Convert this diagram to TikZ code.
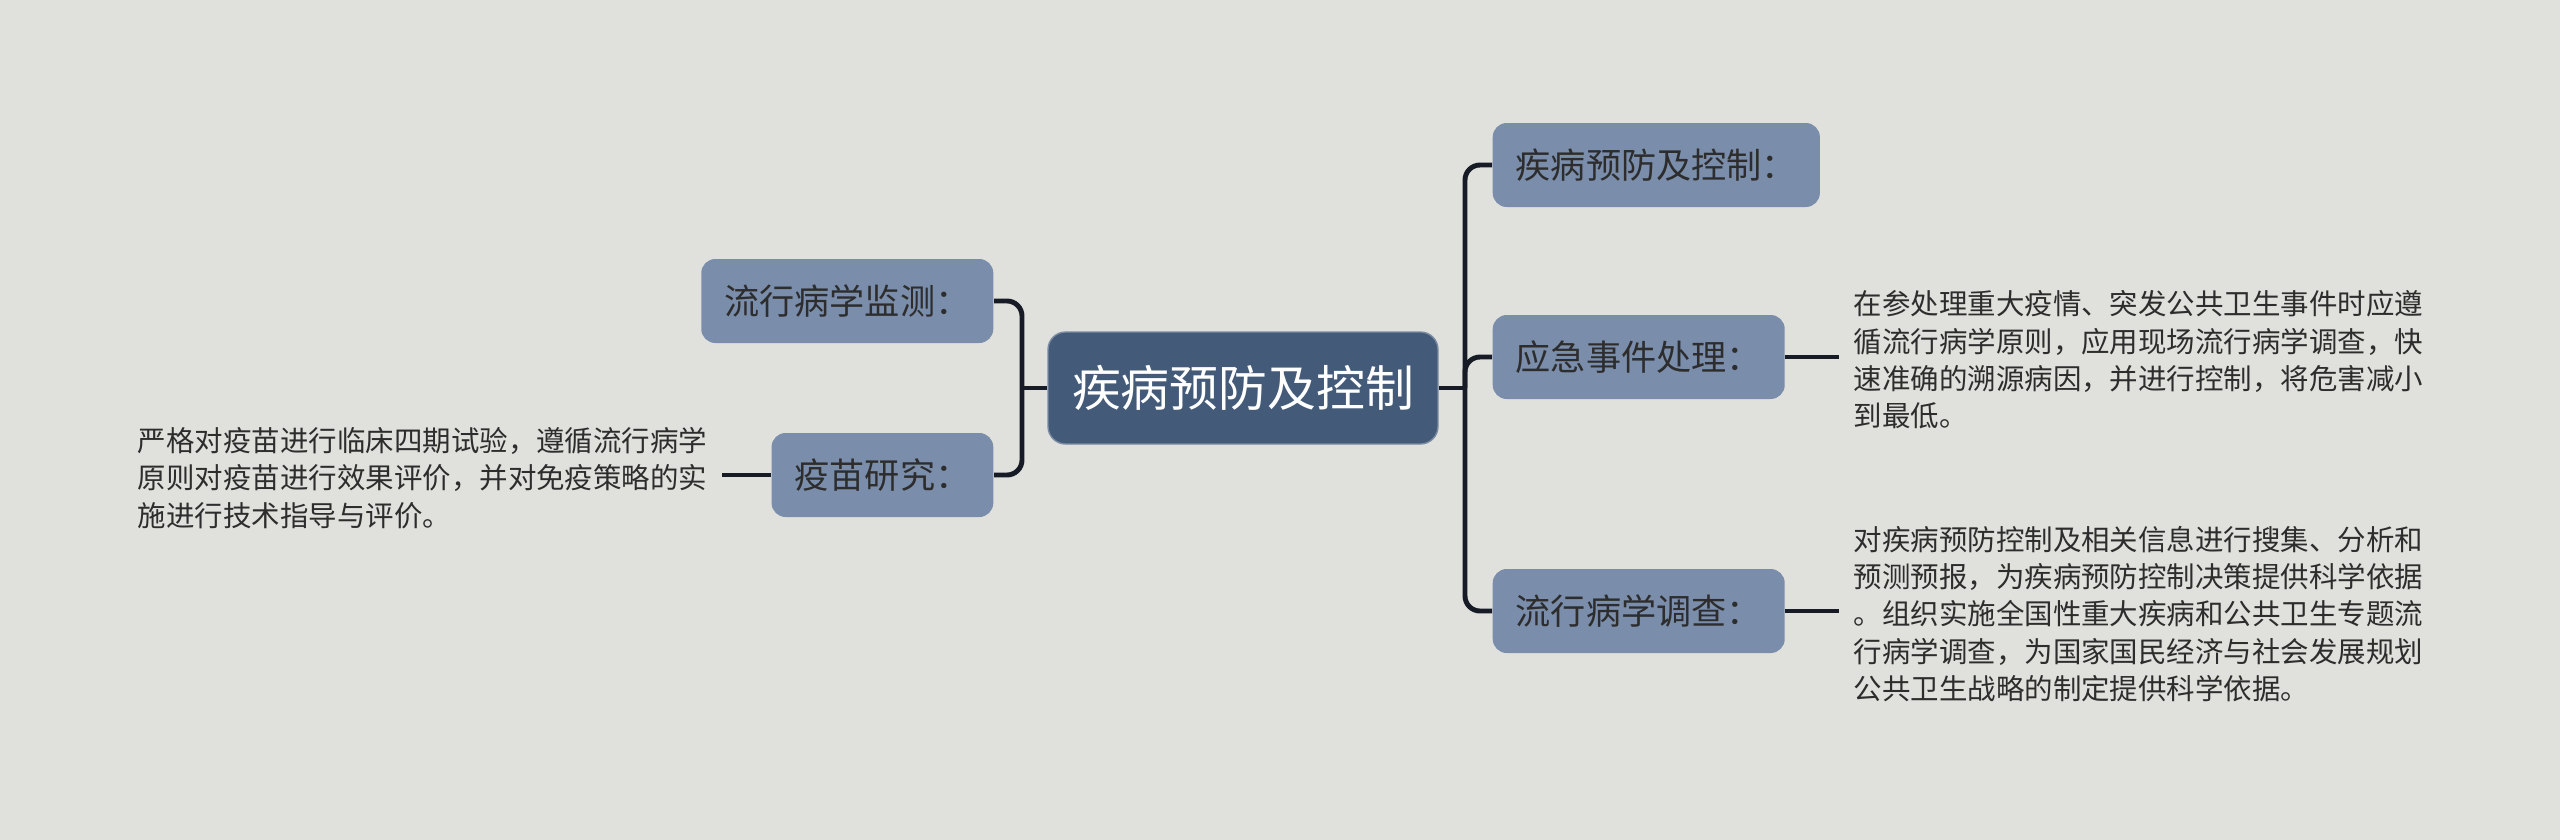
\documentclass[tikz,border=0pt]{standalone}
\usepackage{fontspec}
\newfontfamily\cjk{Noto Sans CJK SC}
\usepackage{xcolor}
\definecolor{BgGray}{RGB}{224, 225, 220}
\definecolor{RootBlue}{RGB}{67, 90, 121}
\definecolor{TopicBlue}{RGB}{122, 141, 171}
\definecolor{LinkDark}{RGB}{22, 27, 38}
\definecolor{TextDark}{RGB}{45, 45, 45}
\usetikzlibrary{positioning}

\begin{document}
\begin{tikzpicture}[
      root/.style={rectangle, fill=RootBlue, draw=RootBlue!70!white, thin, rounded corners=5pt, text=white, font=\cjk\fontsize{13.9}{16}\selectfont, minimum width=3.9cm, minimum height=1.12cm},
      topic/.style={rectangle, fill=TopicBlue, rounded corners=4pt, text=TextDark, font=\cjk\fontsize{10}{12}\selectfont, inner xsep=0.23cm, minimum height=0.84cm},
      note/.style={align=left, text=TextDark, font=\cjk\fontsize{8.1}{10.6}\selectfont, inner xsep=0.14cm, inner ysep=0pt},
      link/.style={draw=LinkDark, line width=1.4pt, rounded corners=0.15cm},
    ]
    % Canvas
    \fill[BgGray] (0, 0) rectangle (25.6, -8.4);
    \useasboundingbox (0, 0) rectangle (25.6, -8.4);

    % Central topic
    \node[root] (center) at (12.43, -3.88) {疾病预防及控制};

    % Right branches
    \node[topic, anchor=west] (prevent) at (14.92, -1.65) {疾病预防及控制：};
    \node[topic, anchor=west] (emerg) at (14.92, -3.57) {应急事件处理：};
    \node[topic, anchor=west] (survey) at (14.92, -6.11) {流行病学调查：};

    % Left branches
    \node[topic, anchor=east] (monitor) at (9.94, -3.01) {流行病学监测：};
    \node[topic, anchor=east] (vaccine) at (9.94, -4.75) {疫苗研究：};

    % Notes
    \node[note, anchor=west] (emergtxt) at (18.39, -3.60) {
      在参处理重大疫情、突发公共卫生事件时应遵\\
      循流行病学原则，应用现场流行病学调查，快\\
      速准确的溯源病因，并进行控制，将危害减小\\
      到最低。
    };
    \node[note, anchor=west] (surveytxt) at (18.39, -6.14) {
      对疾病预防控制及相关信息进行搜集、分析和\\
      预测预报，为疾病预防控制决策提供科学依据\\
      。组织实施全国性重大疾病和公共卫生专题流\\
      行病学调查，为国家国民经济与社会发展规划\\
      公共卫生战略的制定提供科学依据。
    };
    \node[note, anchor=east] (vaccinetxt) at (7.22, -4.78) {
      严格对疫苗进行临床四期试验，遵循流行病学\\
      原则对疫苗进行效果评价，并对免疫策略的实\\
      施进行技术指导与评价。
    };

    % Connectors
    \coordinate (rj) at (14.65, -3.88);
    \coordinate (lj) at (10.22, -3.88);
    \draw[link] (center.east) -- (rj);
    \draw[link] (prevent.west) -| (rj) |- (survey.west);
    \draw[link] (rj) |- (emerg.west);
    \draw[link] (center.west) -- (lj);
    \draw[link] (monitor.east) -| (lj) |- (vaccine.east);
    \draw[link] (emerg.east) -- (emerg.east -| emergtxt.west);
    \draw[link] (survey.east) -- (survey.east -| surveytxt.west);
    \draw[link] (vaccine.west) -- (vaccine.west -| vaccinetxt.east);
  \end{tikzpicture}
\end{document}
